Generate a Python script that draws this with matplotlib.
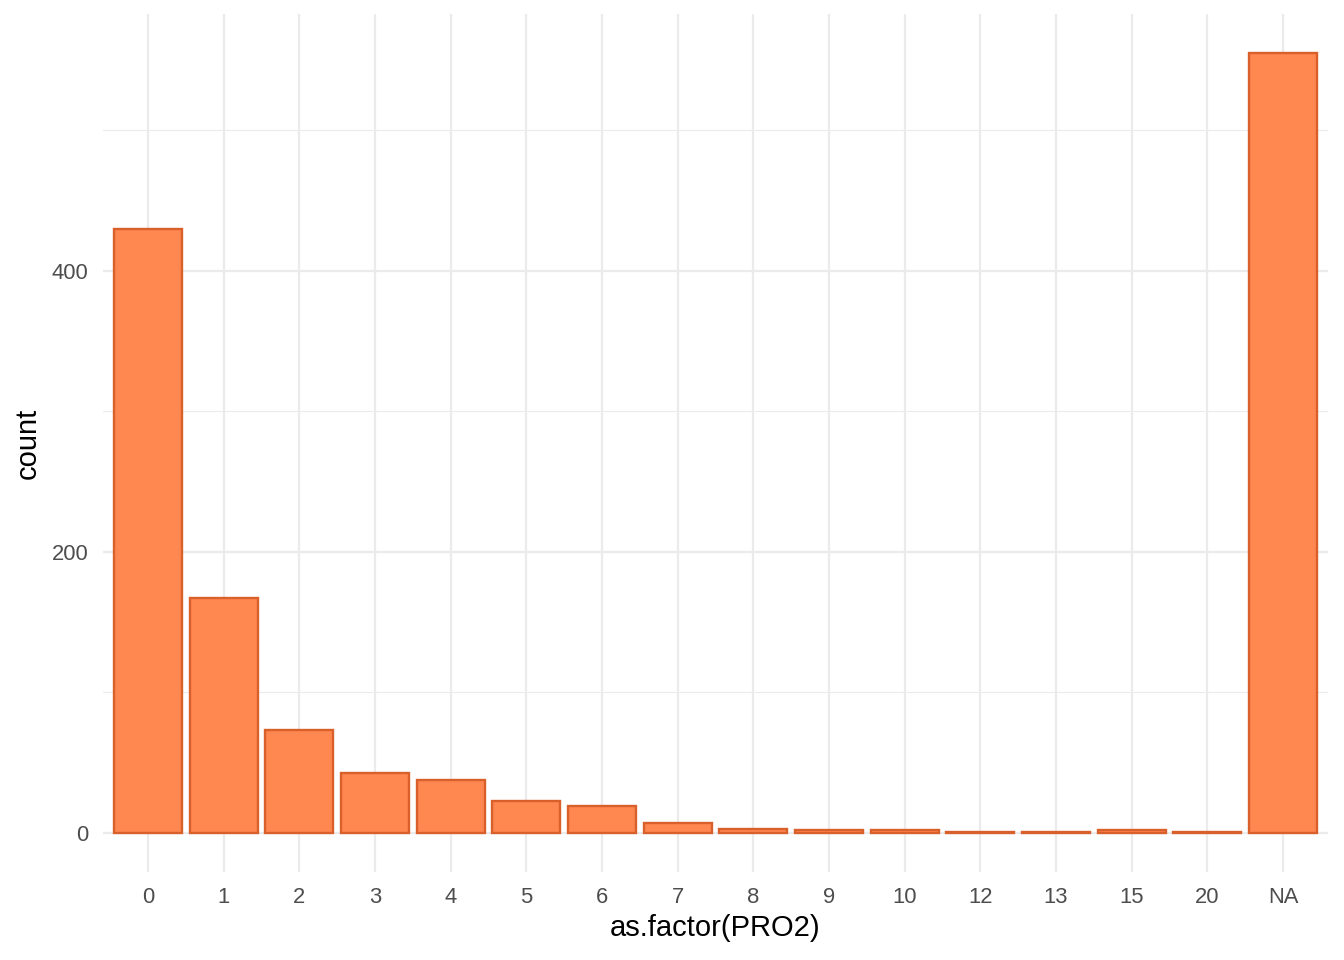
import numpy as np
import matplotlib.pyplot as plt

# bar counts per level of PRO2
levels = ['0', '1', '2', '3', '4', '5', '6', '7', '8', '9', '10', '12', '13', '15', '20', 'NA']
counts = [430, 167, 73, 43, 38, 23, 19, 7, 3, 2, 2, 1, 1, 2, 1, 555]

plt.rcParams['font.family'] = ['Liberation Sans', 'DejaVu Sans']

fig = plt.figure(figsize=(13.44, 9.6), dpi=100)
ax = fig.add_axes([0.0763, 0.0917, 0.9121, 0.8937])

x = np.arange(len(levels))
ax.bar(x, counts, width=0.9, color='#FF8750', edgecolor='#D9602B', linewidth=1.7, zorder=3)

ymax = max(counts)
ax.set_xlim(-0.6, len(levels) - 0.4)
ax.set_ylim(-0.05 * ymax, 1.05 * ymax)

ax.set_xticks(x)
ax.set_xticklabels(levels)
ax.set_yticks([0, 200, 400])
ax.set_yticks([100, 300, 500], minor=True)

ax.grid(which='major', color='#EBEBEB', linewidth=1.6, zorder=0)
ax.grid(which='minor', axis='y', color='#EBEBEB', linewidth=0.8, zorder=0)
ax.set_axisbelow(True)

for s in ax.spines.values():
    s.set_visible(False)
ax.tick_params(which='both', length=0, labelsize=15.8, labelcolor='#4D4D4D')
ax.tick_params(axis='x', pad=11)
ax.tick_params(axis='y', pad=10)

ax.set_xlabel('as.factor(PRO2)', fontsize=21, labelpad=4)
ax.set_ylabel('count', fontsize=21, labelpad=7)

fig.savefig('out.png', dpi=100)
